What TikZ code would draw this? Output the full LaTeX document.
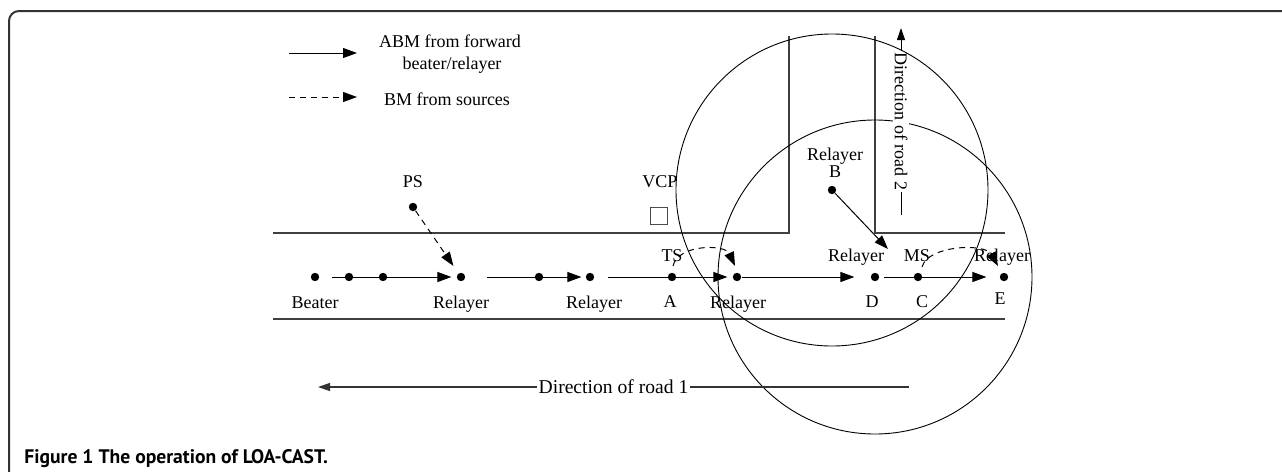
\documentclass[tikz,border=0pt]{standalone}
\usepackage{fontspec}
\setmainfont{Liberation Serif}
\newfontfamily\capfont{PT Sans}
\usetikzlibrary{arrows.meta}
\begin{document}
\begin{tikzpicture}[x=0.5pt,y=-0.5pt,
  font=\fontsize{9}{10.5}\selectfont,
  road/.style={draw=black!75, line width=0.6pt},
  dotn/.style={circle, fill=black, inner sep=0pt, minimum size=4.2pt},
  abm/.style={-{Triangle[length=7pt,width=5pt]}, line width=0.5pt},
  bm/.style={abm, dash pattern=on 3pt off 2.5pt},
  lbl/.style={inner sep=0pt, anchor=base},
  rangecirc/.style={draw=black, line width=0.45pt}]
\useasboundingbox (0,0) rectangle (1282,472);
% frame
\draw[line width=1pt, black!80, rounded corners=5pt] (9,472) -- (9,11) -- (1282,11);
% legend
\coordinate (la1) at (289,53); \coordinate (lb1) at (357,53);
\coordinate (la2) at (289,97); \coordinate (lb2) at (357,97);
\draw[abm] (la1) -- (lb1);
\draw[bm] (la2) -- (lb2);
\node[lbl] (t1) at (450,47) {ABM from forward};
\node[lbl] (t2) at (452,69) {beater/relayer};
\node[lbl] (t3) at (447,105) {BM from sources};
% roads
\draw[road] (273,233) -- (789,233) -- (789,36);
\draw[road] (875,36) -- (875,233) -- (1005,233);
\draw[road] (273,319) -- (1005,319);
% VCP
\node[draw=black!70, line width=0.6pt, minimum size=8.5pt, inner sep=0pt] (vcpbox) at (659,216) {};
\node[lbl] (vcp) at (660,187) {VCP};
% dots
\node[dotn] (beater) at (315,277) {};
\node[dotn] (r1) at (461,277) {};
\node[dotn] (r2) at (590,277) {};
\node[dotn] (r3) at (737,277) {};
\node[dotn] (D) at (875,277) {};
\node[dotn] (E) at (1004,277) {};
\node[dotn] (PS) at (413,207) {};
\node[dotn] (B) at (832,190) {};
% road arrows
\coordinate (s1) at (332,277);
\coordinate (s2) at (487,277);
\coordinate (s3) at (608,277);
\coordinate (s5) at (884,277);
\draw[abm, shorten >=2.5pt] (s1) -- (r1);
\draw[abm, shorten >=2pt] (s2) -- (r2);
\draw[abm, shorten >=2.5pt] (s3) -- (r3);
\draw[abm, shorten >=8pt] (r3) -- (D);
\draw[abm, shorten >=6.5pt] (s5) -- (E);
\node[dotn] (n1) at (349,277) {};
\node[dotn] (n2) at (383,277) {};
\node[dotn] (n3) at (539,277) {};
\node[dotn] (A) at (672,277) {};
\node[dotn] (C) at (918,277) {};
% dashed BM arrows
\draw[bm, shorten >=4.4pt] (PS) -- (r1);
\coordinate (ts0) at (673,266);
\coordinate (tsE) at (735,266);
\draw[bm] (ts0) .. controls (678,244) and (725,244) .. (tsE);
\coordinate (ms0) at (922,267);
\coordinate (msE) at (998,266);
\draw[bm] (ms0) .. controls (928,245) and (985,243) .. (msE);
% B -> D
\coordinate (Btip) at (888,249);
\draw[abm] (B) -- (Btip);
% labels
\node[lbl] at (315,308) {Beater};
\node[lbl] at (461,308) {Relayer};
\node[lbl] at (594,308) {Relayer};
\node[lbl] at (670,307) {A};
\node[lbl] at (738,308) {Relayer};
\node[lbl] at (872,307) {D};
\node[lbl] at (922,307) {C};
\node[lbl] at (1000,304) {E};
\node[lbl] at (672,261) {TS};
\node[lbl] at (856,261) {Relayer};
\node[lbl] at (917,261) {MS};
\node[lbl] at (1002,261) {Relayer};
\node[lbl] at (413,187) {PS};
\node[lbl] at (835,160) {Relayer};
\node[lbl] at (835,177) {B};
% ranges
\draw[rangecirc] (D.center) circle[radius=157];
\coordinate (d2a) at (901,215); \coordinate (d2b) at (901,28);
\draw[-{Triangle[length=6pt,width=4pt]}, line width=0.5pt] (d2a) -- node[fill=white, rotate=-90, inner sep=0.8pt] {Direction of road 2} (d2b);
\draw[rangecirc] (B.center) circle[radius=156];
\coordinate (d1a) at (909,387); \coordinate (d1b) at (318,387);
\draw[-{Triangle[length=6pt,width=4pt]}, line width=0.6pt, black!80] (d1a) -- node[fill=white, inner sep=0.8pt, text=black, font=\fontsize{9.8}{11}\selectfont] {Direction of road 1} (d1b);
% caption
\node[anchor=base west, inner sep=0pt, font=\capfont\bfseries\fontsize{9.8}{12}\selectfont] (cap) at (24,463) {Figure 1 The operation of LOA-CAST.};
\end{tikzpicture}
\end{document}
